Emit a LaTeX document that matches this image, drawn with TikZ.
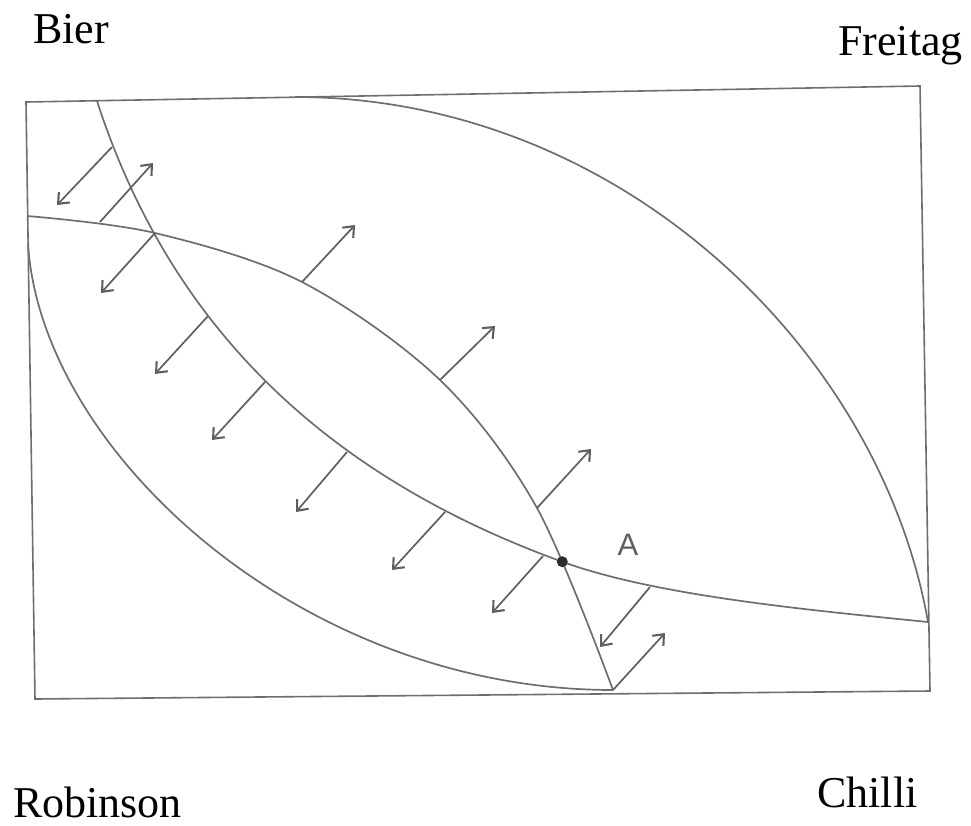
\documentclass[tikz,border=0pt]{standalone}
\usepackage{fontspec}
\setmainfont{Liberation Serif}
\newfontfamily\labelsans{Liberation Sans}
\usetikzlibrary{arrows.meta,intersections}
\definecolor{linegray}{RGB}{110,110,110}
\definecolor{arrowgray}{RGB}{95,95,95}
\definecolor{dotgray}{RGB}{45,45,45}
\begin{document}
\begin{tikzpicture}[x=1pt,y=-1pt,
  frame/.style={draw=linegray,line width=1.6pt},
  curve/.style={draw=linegray,line width=1.7pt},
  arr/.style={draw=arrowgray,line width=1.7pt,-{Straight Barb[length=9pt,width=15pt,line width=2.1pt]}},
  corner/.style={font=\fontsize{44}{50}\selectfont,inner sep=0pt,anchor=base west},
  ptlabel/.style={font=\labelsans\fontsize{31}{36}\selectfont,text=arrowgray,inner sep=0pt}]
\useasboundingbox (0,0) rectangle (971,825);
% frame corners
\coordinate (TL) at (26,102);
\coordinate (TR) at (920,86);
\coordinate (BR) at (930,691);
\coordinate (BL) at (35,699);
\draw[frame] (TL) -- (TR) -- (BR) -- (BL) -- cycle;
% curve P (top edge to right edge, through A)
\coordinate (P0) at (97,101);
\coordinate (PA) at (563,562);
\coordinate (P1) at (928,622);
\draw[curve,name path=P] (P0) .. controls (171,329) and (328,477) .. (PA)
  .. controls (657,596) and (809,610) .. (P1);
% curve Q (left edge to bottom edge, through A)
\draw[curve,name path=Q] plot[smooth,tension=0.55] coordinates {(27,216) (155,233) (302,282) (440,380) (537,508) (613,690)};
% outer curve R
\coordinate (R0) at (295,97);
\coordinate (R1) at (928,622);
\draw[curve] (R0) .. controls (620,97) and (880,350) .. (R1);
% outer curve S
\coordinate (S0) at (28,243);
\coordinate (S1) at (613,690);
\draw[curve] (S0) .. controls (40,450) and (300,690) .. (S1);
% arrows
\foreach \i/\sx/\sy/\ex/\ey in {1/112/147/57/205, 2/100/222/153/163, 3/155/233/101/293,
  4/302/282/355/225, 5/208/316/155/374, 6/265/382/212/440, 7/440/380/495/326,
  8/347/452/296/512, 9/445/512/392/570, 10/537/508/591/449, 11/543/556/492/613,
  12/650/587/600/647, 13/613/690/665/633}{
  \coordinate (s\i) at (\sx,\sy);
  \coordinate (e\i) at (\ex,\ey);
  \draw[arr] (s\i) -- (e\i);
}
% point A
\path[name intersections={of=P and Q,by={X1,A}}];
\fill[dotgray] (A) circle (5.5);
\node[ptlabel] (Alabel) at (628,545) {A};
% corner labels
\node[corner] (bier) at (33,43) {Bier};
\node[corner] (freitag) at (838,55) {Freitag};
\node[corner] (robinson) at (13,817) {Robinson};
\node[corner] (chilli) at (817,807) {Chilli};
\end{tikzpicture}
\end{document}
